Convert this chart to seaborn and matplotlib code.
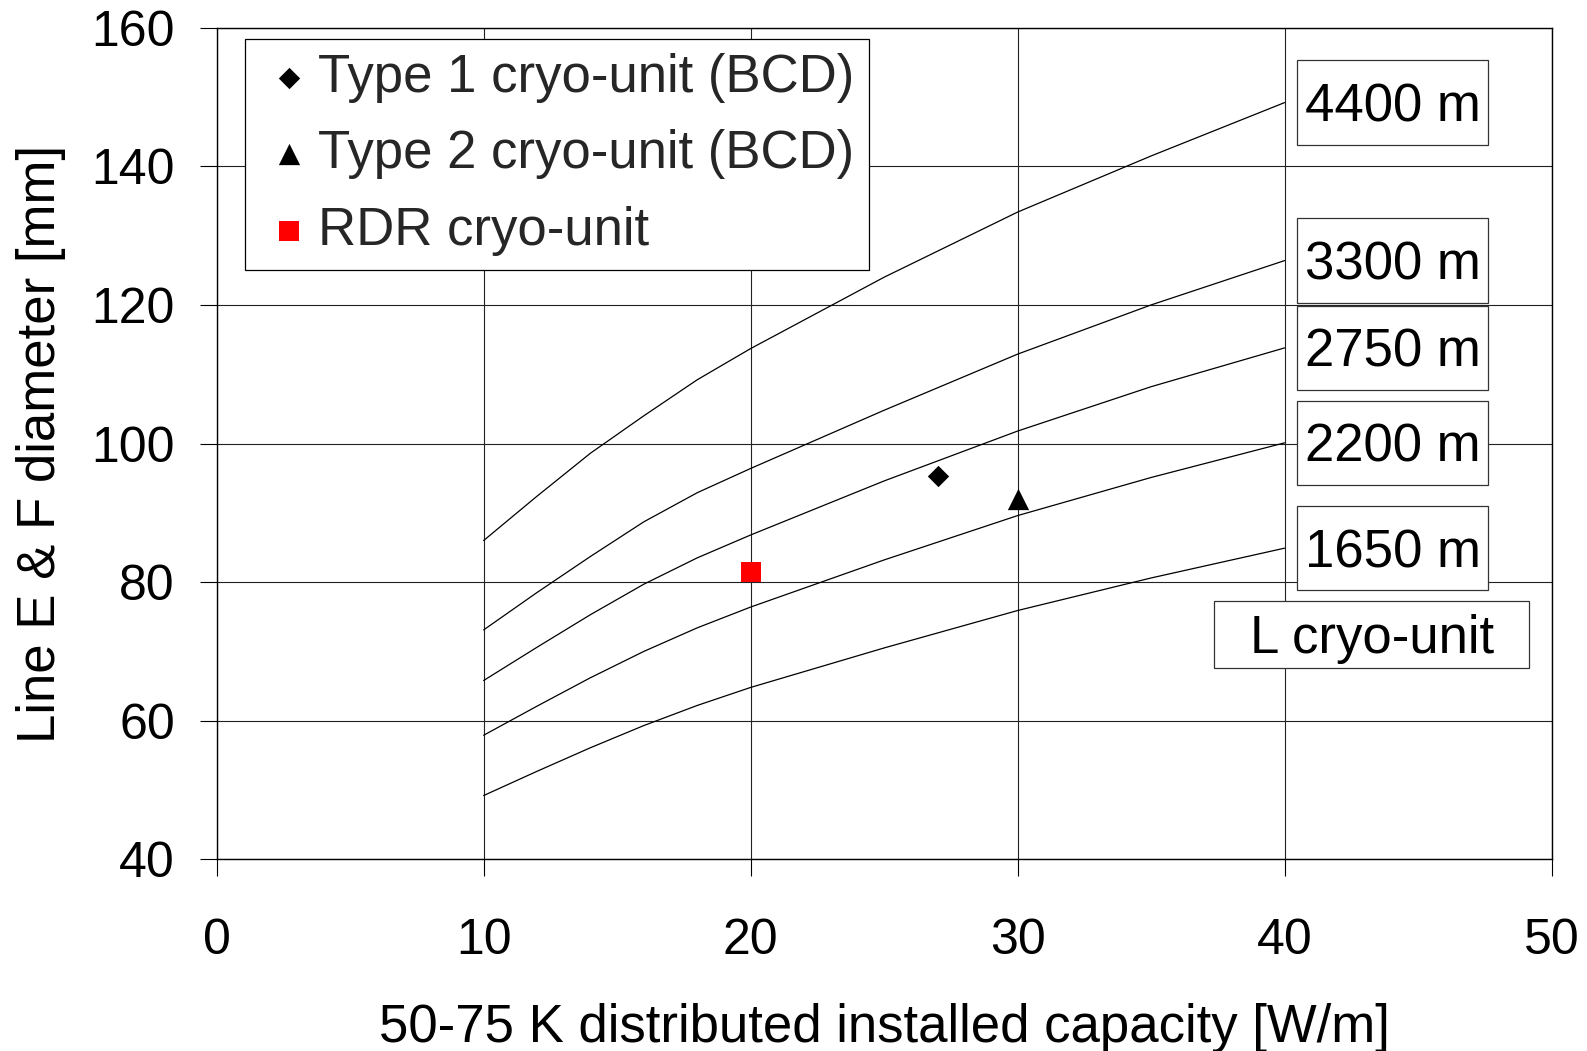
import matplotlib
matplotlib.use("Agg")
import matplotlib.pyplot as plt
from matplotlib.patches import Rectangle
import seaborn as sns
import pandas as pd

# ---------------- data ----------------
capacity = [10, 12, 14, 16, 18, 20, 25, 30, 35, 40]
d_4400 = [86.0, 92.4, 98.6, 104.0, 109.2, 113.7, 124.0, 133.4, 141.5, 149.2]
d_3300 = [73.1, 78.5, 83.7, 88.7, 92.9, 96.4, 104.8, 112.9, 120.0, 126.4]
d_2750 = [65.8, 70.6, 75.3, 79.7, 83.5, 86.8, 94.6, 101.8, 108.2, 113.8]
d_2200 = [57.9, 62.1, 66.2, 70.0, 73.4, 76.4, 83.2, 89.6, 95.1, 100.1]
d_1650 = [49.2, 52.7, 56.1, 59.3, 62.2, 64.8, 70.5, 75.9, 80.6, 84.9]
curve_labels = ["4400 m", "3300 m", "2750 m", "2200 m", "1650 m"]

type1_x = [27]
type1_y = [95.3]
type2_x = [30]
type2_y = [92.0]
rdr_x = [20]
rdr_y = [81.5]

x_ticks = [0, 10, 20, 30, 40, 50]
y_ticks = [40, 60, 80, 100, 120, 140, 160]

# ---------------- style ----------------
sns.set_theme(style="white")
plt.rcParams["font.family"] = ["Liberation Sans", "DejaVu Sans"]
FS_TICK = 36
FS = 38

fig = plt.figure(figsize=(15.87, 10.51), dpi=100)
ax = fig.add_axes([0.1365, 0.1824, 0.8412, 0.7912])

curves = [d_4400, d_3300, d_2750, d_2200, d_1650]
for vals in curves:
    sns.lineplot(x=capacity, y=vals, color="black", linewidth=0.9, ax=ax,
                 legend=False, zorder=2)

sns.scatterplot(x=type1_x, y=type1_y, marker="D", s=118, color="black",
                linewidth=0, ax=ax, label="Type 1 cryo-unit (BCD)", zorder=5)
sns.scatterplot(x=type2_x, y=type2_y, marker="^", s=235, color="black",
                linewidth=0, ax=ax, label="Type 2 cryo-unit (BCD)", zorder=5)
sns.scatterplot(x=rdr_x, y=rdr_y, marker="s", s=225, color="#ff0000",
                linewidth=0, ax=ax, label="RDR cryo-unit", zorder=5)

ax.set_xlim(0, 50)
ax.set_ylim(40, 160)
ax.set_xticks(x_ticks)
ax.set_yticks(y_ticks)
ax.grid(True, color="#222222", linewidth=0.8)
ax.set_axisbelow(True)
for sp in ax.spines.values():
    sp.set_color("black")
    sp.set_linewidth(1.0)
    sp.set_visible(True)

ax.tick_params(axis="both", direction="out", length=12, width=0.8,
               color="black", labelsize=FS_TICK, labelcolor="black")
ax.tick_params(axis="y", pad=18, left=True)
ax.tick_params(axis="x", pad=30, bottom=True)

ax.set_xlabel("50-75 K distributed installed capacity [W/m]", fontsize=FS,
              labelpad=28, color="black")
ax.set_ylabel("Line E & F diameter [mm]", fontsize=FS, labelpad=18,
              color="black")

# labelled boxes at curve ends
cap_half = 0.716 * FS / 2
for lab, vals in zip(curve_labels, curves):
    yc = vals[-1]
    ax.add_patch(Rectangle((40.48, yc - 6.1), 7.13, 12.2, facecolor="white",
                           edgecolor="#333333", linewidth=0.9, zorder=3))
    ax.annotate(lab, xy=(44.05, yc), xytext=(0, -cap_half),
                textcoords="offset points", ha="center", va="baseline",
                fontsize=FS, color="black", zorder=4)

ax.add_patch(Rectangle((37.37, 67.65), 11.79, 9.63, facecolor="white",
                       edgecolor="#333333", linewidth=0.9, zorder=3))
ax.annotate("L cryo-unit", xy=(43.27, 72.46), xytext=(0, -cap_half),
            textcoords="offset points", ha="center", va="baseline",
            fontsize=FS, color="black", zorder=4)

leg = ax.legend(loc="upper left", bbox_to_anchor=(0.0212, 0.987),
                borderaxespad=0, fontsize=FS, frameon=True, fancybox=False,
                framealpha=1, edgecolor="black", borderpad=0.27,
                handlelength=1.12, handletextpad=0.0, labelspacing=0.5)
leg.get_frame().set_linewidth(0.9)
leg.set_zorder(6)

fig.savefig("out.png", dpi=100)
